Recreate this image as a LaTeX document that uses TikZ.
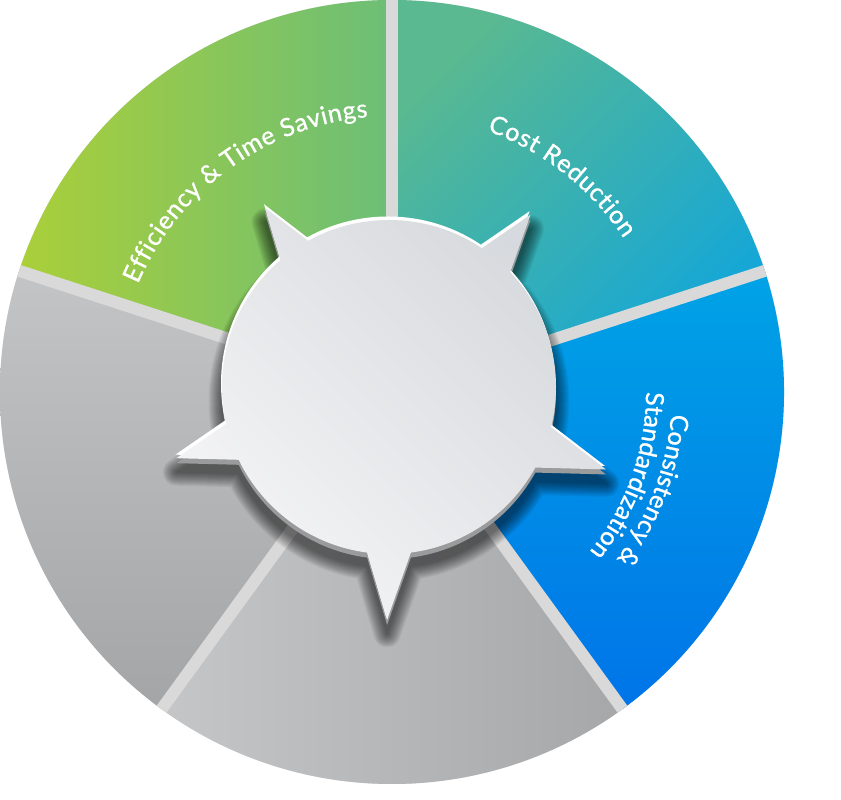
\documentclass[tikz,border=0pt]{standalone}
\usepackage{fontspec}
\newfontfamily\lato[FakeBold=1]{Lato}
\usetikzlibrary{decorations.text}
\definecolor{divc}{HTML}{D9D9D9}
\definecolor{gA}{HTML}{AACF39}
\definecolor{gB}{HTML}{6CBE77}
\definecolor{tA}{HTML}{5AB990}
\definecolor{tB}{HTML}{12A6DA}
\definecolor{bA}{HTML}{00A3E6}
\definecolor{bB}{HTML}{0074E8}
\definecolor{gbA}{HTML}{C5C6C8}
\definecolor{gbB}{HTML}{A6A7A9}
\definecolor{glA}{HTML}{C3C4C6}
\definecolor{glB}{HTML}{A4A5A7}
\definecolor{faceTop}{HTML}{D6D9DD}
\definecolor{faceBot}{HTML}{F5F5F6}
\definecolor{rimGray}{HTML}{9A9B9D}
\def\hubpath{(-91.5:226) -- (-55.5:86.3) -- (-19.5:226) -- (16.5:86.3) -- (52.5:226) -- (88.5:86.3) -- (124.5:226) -- (160.5:86.3) -- (196.5:226) -- (232.5:86.3) -- cycle (163,7) arc[start angle=0,end angle=360,radius=167bp] -- cycle}
\tikzset{
  divider/.style={draw=divc, line width=12bp},
  arclabel/.style={decorate, decoration={text along path, text={|\lato\fontsize{25bp}{25bp}\selectfont|#1}, text color=white, text align=fit to path}}
}
\begin{document}
\begin{tikzpicture}[x=1bp,y=1bp]
\useasboundingbox (0,0) rectangle (841,800);
\fill[white] (0,0) rectangle (841,800);
\coordinate (C) at (392,408);
\begin{scope}[shift={(392,408)}]
  \fill[divc] (0,0) circle[radius=392bp];
  \shade[left color=gA, right color=gB] (0,0) -- (90:392bp) arc[start angle=90, end angle=162, radius=392bp] -- cycle;
  \shade[top color=tA, bottom color=tB, shading angle=45] (0,0) -- (18:392bp) arc[start angle=18, end angle=90, radius=392bp] -- cycle;
  \shade[top color=bA, bottom color=bB] (0,0) -- (-54:392bp) arc[start angle=-54, end angle=18, radius=392bp] -- cycle;
  \shade[left color=gbA, right color=gbB] (0,0) -- (-126:392bp) arc[start angle=-126, end angle=-54, radius=392bp] -- cycle;
  \shade[top color=glA, bottom color=glB] (0,0) -- (162:392bp) arc[start angle=162, end angle=234, radius=392bp] -- cycle;
  \begin{scope}
    \clip (0,0) circle[radius=392bp];
    \foreach \a in {90,18,-54,-126,162} \draw[divider] (0,0) -- (\a:394bp);
  \end{scope}
\end{scope}
\begin{scope}[shift={(393,406)}]
  \foreach \w in {1,3,...,27} {
    \begin{scope}[transparency group, opacity=0.047]
      \path[fill=black, draw=black, line width=\w bp, line join=round, shift={(0,-14)}] \hubpath;
    \end{scope}
  }
  \fill[rimGray, shift={(0,-5)}] \hubpath;
  \fill[white, shift={(-1,3.5)}] \hubpath;
  \shade[top color=faceTop, bottom color=faceBot, shading angle=-45] \hubpath;
\end{scope}
\begin{scope}[shift={(392,408)}]
  \path[arclabel={Efficiency {\&} Time Savings}] (157:276bp) arc[start angle=157, end angle=95, radius=276bp];
  \path[arclabel={Cost Reduction}] (70:278bp) arc[start angle=70, end angle=33.5, radius=278bp];
  \path[arclabel={Consistency {\&}}] (-4.5:280bp) arc[start angle=-4.5, end angle=-36.5, radius=280bp];
  \path[arclabel={Standardization}] (0:254bp) arc[start angle=0, end angle=-39, radius=254bp];
\end{scope}
\end{tikzpicture}
\end{document}
